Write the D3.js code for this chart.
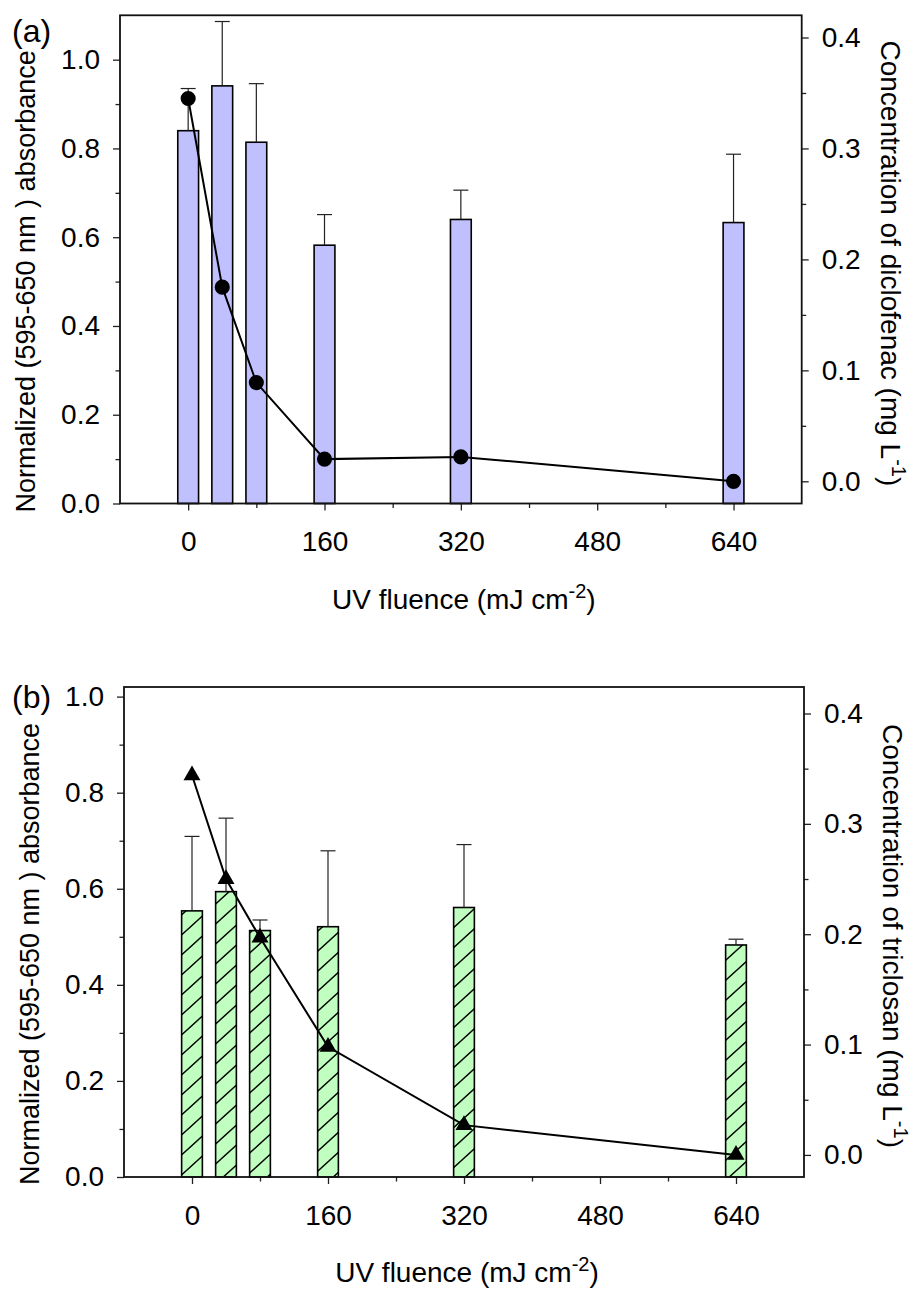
<!DOCTYPE html>
<html>
<head>
<meta charset="utf-8">
<script src="https://cdn.jsdelivr.net/npm/d3@7"></script>
<style>
  body { margin: 0; background: #fff; }
  svg text { font-family: "Liberation Sans", Arial, Helvetica, sans-serif; fill: #000; }
</style>
</head>
<body>
<svg id="chart" width="917" height="1289"></svg>
<script>
// UV fluence levels (mJ cm-2) at which samples were taken
const fluence = [0, 40, 80, 160, 320, 640];

// Axis tick values
const xTicks = [0, 160, 320, 480, 640];
const xMinorTicks = [80, 240, 400, 560];
const absTicks = [0, 0.2, 0.4, 0.6, 0.8, 1.0];
const absMinorTicks = [0.1, 0.3, 0.5, 0.7, 0.9];
const concTicks = [0, 0.1, 0.2, 0.3, 0.4];
const concMinorTicks = [0.05, 0.15, 0.25, 0.35];

// (a) diclofenac: normalized absorbance (bars, upper error) and concentration (line)
const diclofenacAbs = [0.840, 0.941, 0.814, 0.582, 0.640, 0.633];
const diclofenacAbsErr = [0.095, 0.145, 0.132, 0.069, 0.066, 0.154];
const diclofenacConc = [0.345, 0.175, 0.089, 0.020, 0.022, 0.000];

// (b) triclosan: normalized absorbance (bars, upper error) and concentration (line)
const triclosanAbs = [0.554, 0.594, 0.513, 0.521, 0.561, 0.483];
const triclosanAbsErr = [0.155, 0.153, 0.022, 0.158, 0.131, 0.012];
const triclosanConc = [0.344, 0.250, 0.197, 0.098, 0.027, 0.000];

const svg = d3.select("#chart");
const defs = svg.append("defs");

// diagonal hatch used for the triclosan bars
const hatch = defs.append("pattern")
  .attr("id", "hatchGreen")
  .attr("patternUnits", "userSpaceOnUse")
  .attr("width", 22).attr("height", 20);
hatch.append("rect").attr("width", 22).attr("height", 20).attr("fill", "#c0ffc0");
hatch.append("path")
  .attr("d", "M-11,10 L11,-10 M0,20 L22,0 M11,30 L33,10")
  .attr("stroke", "#000").attr("stroke-width", 1.4).attr("fill", "none");

const panels = [
  {
    label: "(a)", labelY: 42,
    left: 120, right: 801.7, top: 15.3, bottom: 503.5,
    absMax: 1.1, concMax: 0.42,
    abs: diclofenacAbs, err: diclofenacAbsErr, conc: diclofenacConc,
    fill: "#c0c0ff", symbol: d3.symbolCircle, symbolSize: 180,
    concTitle: "Concentration of diclofenac (mg L"
  },
  {
    label: "(b)", labelY: 708,
    left: 124, right: 804, top: 687, bottom: 1177,
    absMax: 1.02, concMax: 0.424,
    abs: triclosanAbs, err: triclosanAbsErr, conc: triclosanConc,
    fill: "url(#hatchGreen)", symbol: d3.symbolTriangle, symbolSize: 125,
    concTitle: "Concentration of triclosan (mg L"
  }
];

const fmt = d3.format(".1f");

panels.forEach(p => {
  const g = svg.append("g");
  const x = d3.scaleLinear().domain([-80, 720]).range([p.left, p.right]);
  const yL = d3.scaleLinear().domain([0, p.absMax]).range([p.bottom, p.top]);
  const yR = d3.scaleLinear().domain([-0.02, p.concMax]).range([p.bottom, p.top]);
  const halfW = x(12.2) - x(0);
  const capW = 7.5;

  const rows = fluence.map((f, i) => ({ f, abs: p.abs[i], err: p.err[i], conc: p.conc[i] }));

  // bars
  g.selectAll("rect.bar").data(rows).join("rect")
    .attr("class", "bar")
    .attr("x", d => x(d.f) - halfW)
    .attr("width", 2 * halfW)
    .attr("y", d => yL(d.abs))
    .attr("height", d => yL(0) - yL(d.abs))
    .attr("fill", p.fill)
    .attr("stroke", "#000").attr("stroke-width", 1.6);

  // upper error bars
  const eb = g.selectAll("g.err").data(rows).join("g").attr("class", "err")
    .attr("stroke", "#222").attr("stroke-width", 1.2);
  eb.append("line")
    .attr("x1", d => x(d.f)).attr("x2", d => x(d.f))
    .attr("y1", d => yL(d.abs)).attr("y2", d => yL(d.abs + d.err));
  eb.append("line")
    .attr("x1", d => x(d.f) - capW).attr("x2", d => x(d.f) + capW)
    .attr("y1", d => yL(d.abs + d.err)).attr("y2", d => yL(d.abs + d.err));

  // concentration line + markers (right axis)
  g.append("path")
    .datum(rows)
    .attr("fill", "none").attr("stroke", "#000").attr("stroke-width", 2)
    .attr("d", d3.line().x(d => x(d.f)).y(d => yR(d.conc)));
  g.selectAll("path.mark").data(rows).join("path")
    .attr("class", "mark")
    .attr("transform", d => `translate(${x(d.f)},${yR(d.conc)})`)
    .attr("d", d3.symbol(p.symbol, p.symbolSize))
    .attr("fill", "#000");

  // axes
  const styleAxis = sel => {
    sel.select(".domain").remove();
    sel.selectAll(".tick line").attr("stroke", "#222").attr("stroke-width", 1.3);
    sel.selectAll("text").attr("font-size", 28).attr("fill", "#000");
  };
  g.append("g").attr("transform", `translate(${p.left},0)`)
    .call(d3.axisLeft(yL).tickValues(absTicks).tickSize(7).tickPadding(13).tickFormat(fmt))
    .call(styleAxis);
  g.append("g").attr("transform", `translate(${p.left},0)`)
    .call(d3.axisLeft(yL).tickValues(absMinorTicks).tickSize(4.5).tickFormat(""))
    .call(styleAxis);
  g.append("g").attr("transform", `translate(${p.right},0)`)
    .call(d3.axisRight(yR).tickValues(concTicks).tickSize(7).tickPadding(13).tickFormat(fmt))
    .call(styleAxis);
  g.append("g").attr("transform", `translate(${p.right},0)`)
    .call(d3.axisRight(yR).tickValues(concMinorTicks).tickSize(4.5).tickFormat(""))
    .call(styleAxis);
  g.append("g").attr("transform", `translate(0,${p.bottom})`)
    .call(d3.axisBottom(x).tickValues(xTicks).tickSize(7).tickPadding(21).tickFormat(d3.format("d")))
    .call(styleAxis);
  g.append("g").attr("transform", `translate(0,${p.bottom})`)
    .call(d3.axisBottom(x).tickValues(xMinorTicks).tickSize(4.5).tickFormat(""))
    .call(styleAxis);

  // frame
  g.append("rect")
    .attr("x", p.left).attr("y", p.top)
    .attr("width", p.right - p.left).attr("height", p.bottom - p.top)
    .attr("fill", "none").attr("stroke", "#111").attr("stroke-width", 1.8);

  // axis titles
  const midY = (p.top + p.bottom) / 2;
  g.append("text")
    .attr("transform", `translate(${p.left - 85},${midY + 22}) rotate(-90)`)
    .attr("text-anchor", "middle").attr("font-size", 27)
    .text("Normalized (595-650 nm ) absorbance");

  const rt = g.append("text")
    .attr("transform", `translate(${p.right + 79},${midY + 4}) rotate(90)`)
    .attr("text-anchor", "middle").attr("font-size", 28);
  rt.append("tspan").text(p.concTitle);
  rt.append("tspan").attr("font-size", 20).attr("dy", -11).text("-1");
  rt.append("tspan").attr("dy", 11).text(")");

  const xt = g.append("text")
    .attr("x", (p.left + p.right) / 2 + 3).attr("y", p.bottom + 105)
    .attr("text-anchor", "middle").attr("font-size", 28);
  xt.append("tspan").text("UV fluence (mJ cm");
  xt.append("tspan").attr("font-size", 20).attr("dy", -11).text("-2");
  xt.append("tspan").attr("dy", 11).text(")");

  // panel label
  g.append("text").attr("x", 12).attr("y", p.labelY)
    .attr("font-size", 32).text(p.label);
});
</script>
</body>
</html>
